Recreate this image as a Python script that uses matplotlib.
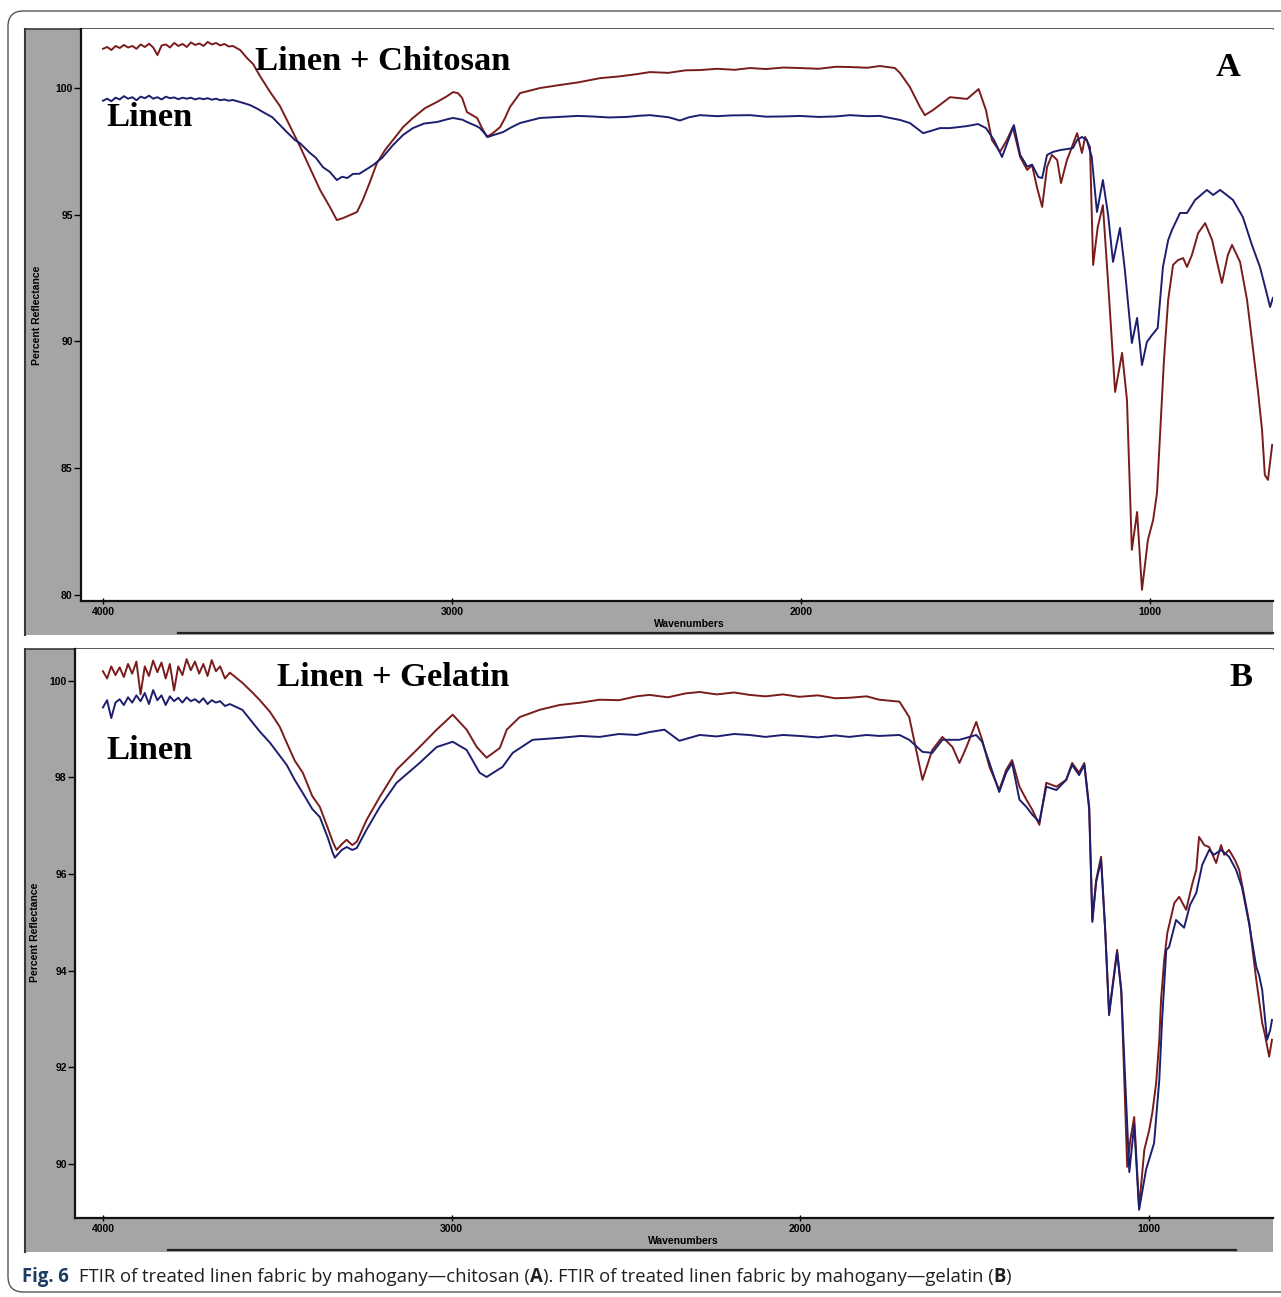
import numpy as np
import matplotlib.pyplot as plt
from matplotlib.patches import Rectangle, FancyBboxPatch
from matplotlib.lines import Line2D

# ---- data (wavenumber, percent reflectance) ----
# panel A, Linen + Chitosan
wn_chit = [4000, 3988, 3976, 3964, 3952, 3940, 3928, 3916, 3904, 3892, 3880, 3868, 3856, 3844,
           3832, 3820, 3808, 3796, 3784, 3772, 3760, 3748, 3736, 3724, 3712, 3700, 3688, 3676,
           3664, 3652, 3640, 3628, 3607, 3587, 3570, 3550, 3521, 3493, 3473, 3436, 3407, 3378,
           3350, 3330, 3312, 3292, 3272, 3255, 3235, 3215, 3192, 3169, 3140, 3112, 3077, 3043,
           3014, 2997, 2983, 2971, 2957, 2928, 2914, 2900, 2883, 2862, 2848, 2834, 2805, 2748,
           2691, 2640, 2576, 2520, 2470, 2433, 2380, 2330, 2289, 2240, 2190, 2146, 2100, 2050,
           2003, 1950, 1900, 1860, 1810, 1774, 1731, 1716, 1688, 1659, 1645, 1622,
           1573, 1524, 1491, 1470, 1453, 1430, 1410, 1393, 1372, 1352, 1338, 1324, 1309, 1295,
           1281, 1266, 1255, 1238, 1229, 1209, 1195, 1186, 1172, 1163, 1150, 1135, 1120, 1100,
           1080, 1066, 1052, 1037, 1023, 1006, 991, 980, 971, 960, 948, 934, 920, 905, 894, 880,
           862, 842, 822, 808, 794, 777, 765, 742, 722, 708, 691, 679, 671, 662, 650]
r_chit = [101.55, 101.62, 101.50, 101.66, 101.58, 101.70, 101.60, 101.66, 101.55, 101.72, 101.62,
          101.75, 101.60, 101.30, 101.68, 101.72, 101.60, 101.78, 101.66, 101.74, 101.62, 101.80,
          101.70, 101.76, 101.66, 101.82, 101.72, 101.78, 101.68, 101.74, 101.64, 101.66, 101.50,
          101.18, 100.95, 100.47, 99.84, 99.29, 98.74, 97.71, 96.84, 95.98, 95.31, 94.79, 94.87,
          94.99, 95.11, 95.60, 96.30, 97.04, 97.55, 97.95, 98.46, 98.82, 99.21, 99.45, 99.68,
          99.84, 99.80, 99.61, 99.05, 98.82, 98.42, 98.07, 98.22, 98.46, 98.82, 99.25, 99.80,
          100.00, 100.12, 100.22, 100.39, 100.46, 100.55, 100.63, 100.60, 100.70, 100.71, 100.76,
          100.72, 100.79, 100.75, 100.81, 100.79, 100.76, 100.84, 100.83, 100.80, 100.87,
          100.79, 100.59, 100.04, 99.25, 98.93, 99.13, 99.64, 99.57, 99.96, 99.13, 97.95, 97.48,
          97.95, 98.46, 97.28, 96.77, 96.96, 96.09, 95.31, 96.88, 97.36, 97.16, 96.25, 97.16,
          97.48, 98.22, 97.44, 98.07, 97.67, 93.02, 94.50, 95.38, 92.31, 88.01, 89.55, 87.69,
          81.78, 83.27, 80.20, 82.17, 82.96, 84.02, 86.39, 89.27, 91.64, 93.02, 93.21, 93.29,
          92.94, 93.41, 94.28, 94.67, 94.00, 93.14, 92.31, 93.41, 93.81, 93.14, 91.64, 90.06,
          88.09, 86.51, 84.73, 84.54, 85.92]

# panel A, Linen
wn_linA = [4000, 3988, 3976, 3964, 3952, 3940, 3928, 3916, 3904, 3892, 3880, 3868, 3856, 3844,
           3832, 3820, 3808, 3796, 3784, 3772, 3760, 3748, 3736, 3724, 3712, 3700, 3688, 3676,
           3664, 3652, 3640, 3628, 3600, 3579, 3560, 3536, 3515, 3493, 3473, 3450, 3436, 3407,
           3390, 3370, 3350, 3330, 3315, 3300, 3284, 3265, 3250, 3226, 3200, 3169, 3140, 3112,
           3080, 3043, 3010, 2997, 2970, 2957, 2930, 2920, 2897, 2880, 2854, 2830, 2805, 2748,
           2691, 2640, 2600, 2550, 2500, 2460, 2433, 2380, 2347, 2320, 2289, 2240, 2200, 2146,
           2100, 2050, 2003, 1950, 1900, 1860, 1810, 1774,
           1716, 1688, 1650, 1630, 1602, 1573, 1524, 1493, 1470, 1447, 1424, 1410, 1390,
           1372, 1352, 1338, 1320, 1309, 1295, 1278, 1258, 1221, 1209, 1195, 1181, 1167, 1152,
           1135, 1120, 1106, 1086, 1072, 1052, 1037, 1023, 1009, 994, 978, 963, 948, 937, 914,
           894, 871, 837, 819, 799, 762, 734, 708, 685, 668, 656, 648]
r_linA = [99.50, 99.58, 99.48, 99.62, 99.55, 99.68, 99.58, 99.64, 99.52, 99.66, 99.60, 99.70,
          99.58, 99.64, 99.55, 99.66, 99.60, 99.63, 99.56, 99.62, 99.58, 99.62, 99.55, 99.60,
          99.56, 99.60, 99.54, 99.58, 99.52, 99.55, 99.50, 99.53, 99.42, 99.33, 99.20, 99.01,
          98.85, 98.54, 98.26, 97.95, 97.83, 97.44, 97.25, 96.88, 96.69, 96.37, 96.50, 96.45,
          96.61, 96.62, 96.75, 96.96, 97.25, 97.75, 98.15, 98.42, 98.60, 98.66, 98.78, 98.82,
          98.75, 98.66, 98.50, 98.42, 98.07, 98.15, 98.26, 98.45, 98.62, 98.82,
          98.86, 98.90, 98.88, 98.84, 98.86, 98.91, 98.93, 98.85, 98.72, 98.85, 98.93, 98.89,
          98.92, 98.93, 98.87, 98.88, 98.90, 98.86, 98.88, 98.93, 98.89, 98.90,
          98.74, 98.62, 98.22, 98.30, 98.42, 98.42, 98.50, 98.58, 98.42, 97.95, 97.28,
          97.80, 98.54, 97.36, 96.90, 96.98, 96.49, 96.45, 97.36, 97.48, 97.55, 97.63, 97.95,
          98.07, 97.95, 97.28, 95.11, 96.37, 94.99, 93.14, 94.48, 92.82, 89.94, 90.93, 89.07,
          89.98, 90.26, 90.53, 92.94, 94.00, 94.40, 95.07, 95.07, 95.58, 95.98, 95.78, 95.98,
          95.58, 94.91, 93.81, 92.94, 92.03, 91.36, 91.72]

# panel B, Linen + Gelatin
wn_gel = [4000, 3988, 3976, 3964, 3952, 3940, 3928, 3916, 3904, 3892, 3880, 3868, 3856, 3844,
          3832, 3820, 3808, 3796, 3784, 3772, 3760, 3748, 3736, 3724, 3712, 3700, 3688, 3676,
          3664, 3650, 3636, 3600, 3570, 3550, 3521, 3493, 3473, 3450, 3427, 3400, 3378, 3355,
          3341, 3330, 3315, 3301, 3285, 3272, 3244, 3206, 3158, 3092, 3043, 2997, 2957, 2928,
          2900, 2862, 2842, 2805, 2748,
          2691, 2630, 2576, 2520, 2470, 2433, 2380, 2330, 2289, 2240, 2190, 2146, 2100, 2050,
          2003, 1950, 1900, 1860, 1810, 1774, 1716,
          1688, 1668, 1650, 1622, 1593, 1564, 1544, 1524, 1496, 1479, 1458, 1430, 1410, 1393,
          1372, 1352, 1335, 1315, 1295, 1266, 1238, 1221, 1201, 1186, 1172, 1163, 1152, 1138,
          1126, 1115, 1092, 1080, 1063, 1054, 1043, 1029, 1014, 1000, 991, 980, 971, 966, 957,
          948, 928, 914, 894, 877, 865, 857, 842, 828, 808, 794, 785, 771, 754, 742, 728, 713,
          693, 685, 676, 668, 656, 648]
r_gel = [100.20, 100.05, 100.30, 100.12, 100.28, 100.08, 100.35, 100.15, 100.40, 99.72, 100.30,
         100.10, 100.42, 100.18, 100.38, 100.05, 100.35, 99.80, 100.30, 100.12, 100.45, 100.22,
         100.40, 100.15, 100.35, 100.10, 100.43, 100.20, 100.30, 100.05, 100.17, 99.96, 99.75,
         99.60, 99.36, 99.05, 98.72, 98.35, 98.10, 97.62, 97.39, 96.95, 96.67, 96.50, 96.62,
         96.71, 96.60, 96.67, 97.12, 97.60, 98.16, 98.63, 98.99, 99.30, 98.99, 98.63, 98.41,
         98.61, 98.99, 99.25, 99.40,
         99.50, 99.55, 99.61, 99.60, 99.68, 99.71, 99.66, 99.74, 99.77, 99.72, 99.76, 99.71,
         99.68, 99.72, 99.67, 99.70, 99.64, 99.65, 99.68, 99.61, 99.57,
         99.25, 98.57, 97.95, 98.57, 98.84, 98.63, 98.30, 98.63, 99.15, 98.78, 98.22,
         97.74, 98.16, 98.36, 97.81, 97.54, 97.33, 97.02, 97.89, 97.81, 97.95, 98.30, 98.10,
         98.30, 97.39, 95.05, 95.88, 96.36, 94.84, 93.13, 94.43, 93.60, 89.94, 90.50, 90.97,
         89.09, 90.29, 90.70, 91.06, 91.68, 92.57, 93.40, 94.22, 94.78, 95.40, 95.53, 95.26,
         95.78, 96.09, 96.77, 96.60, 96.56, 96.23, 96.60, 96.40, 96.50, 96.29, 96.09, 95.57,
         94.99, 93.81, 93.40, 92.92, 92.67, 92.22, 92.57]

# panel B, Linen
wn_linB = [4000, 3988, 3976, 3964, 3952, 3940, 3928, 3916, 3904, 3892, 3880, 3868, 3856, 3844,
           3832, 3820, 3808, 3796, 3784, 3772, 3760, 3748, 3736, 3724, 3712, 3700, 3688, 3676,
           3664, 3650, 3636, 3600, 3570, 3550, 3521, 3493, 3473, 3450, 3427, 3400, 3378, 3355,
           3341, 3335, 3315, 3301, 3285, 3272, 3244, 3206, 3158, 3092, 3043, 2997, 2957, 2920,
           2900, 2854, 2825, 2768,
           2691, 2630, 2576, 2520, 2470, 2433, 2390, 2347, 2289, 2240, 2190, 2146, 2100, 2050,
           2003, 1950, 1900, 1860, 1810, 1774,
           1716, 1688, 1650, 1622, 1593, 1544, 1496, 1479, 1458, 1430, 1410, 1393, 1372, 1352,
           1335, 1315, 1295, 1266, 1238, 1221, 1201, 1186, 1172, 1163, 1152, 1138, 1126, 1115,
           1092, 1080, 1057, 1043, 1029, 1009, 986, 971, 963, 951, 943, 923, 900, 883, 865, 848,
           828, 814, 794, 771, 751, 734, 713, 693, 685, 676, 662, 653, 648]
r_linB = [99.45, 99.60, 99.23, 99.55, 99.62, 99.50, 99.66, 99.55, 99.70, 99.58, 99.75, 99.52,
          99.81, 99.60, 99.70, 99.50, 99.68, 99.58, 99.65, 99.55, 99.66, 99.58, 99.62, 99.55,
          99.64, 99.52, 99.60, 99.55, 99.58, 99.48, 99.52, 99.40, 99.13, 98.95, 98.72, 98.45,
          98.26, 97.95, 97.68, 97.35, 97.18, 96.75, 96.44, 96.34, 96.50, 96.56, 96.50, 96.54,
          96.92, 97.39, 97.89, 98.30, 98.63, 98.74, 98.57, 98.10, 98.01, 98.22, 98.51, 98.78,
          98.82, 98.86, 98.84, 98.90, 98.88, 98.94, 98.99, 98.76, 98.88, 98.85, 98.90, 98.88,
          98.84, 98.88, 98.86, 98.83, 98.87, 98.84, 98.88, 98.86,
          98.88, 98.78, 98.53, 98.51, 98.78, 98.78, 98.88, 98.74, 98.30, 97.70, 98.10, 98.30,
          97.54, 97.39, 97.23, 97.08, 97.81, 97.74, 97.95, 98.26, 98.05, 98.26, 97.33, 95.01,
          95.84, 96.29, 94.80, 93.08, 94.39, 93.56, 89.83, 90.81, 89.05, 89.88, 90.43, 91.74,
          92.98, 94.43, 94.49, 95.05, 94.89, 95.36, 95.61, 96.19, 96.50, 96.40, 96.50, 96.36,
          96.09, 95.73, 94.95, 94.08, 93.91, 93.60, 92.57, 92.77, 92.98]

yticks_A = [80, 85, 90, 95, 100]
yticks_B = [90, 92, 94, 96, 98, 100]
xticks = [4000, 3000, 2000, 1000]

caption = [("Fig. 6", True), ("FTIR of treated linen fabric by mahogany\u2014chitosan (", False),
           ("A", True), ("). FTIR of treated linen fabric by mahogany\u2014gelatin (", False),
           ("B", True), (")", False)]

# ---- layout in image pixels ----
W, H = 1281, 1297
RED = '#7a1c1c'
BLUE = '#1d1f6e'
GREY = '#a5a5a5'
NARROW = ['Liberation Sans Narrow', 'Liberation Sans', 'DejaVu Sans']
SERIF = ['Liberation Serif', 'DejaVu Serif']


def fx(x):
    return x / W


def fy(y):
    return 1 - y / H


fig = plt.figure(figsize=(W / 100, H / 100), dpi=100)
fig.patch.set_facecolor('white')

# outer rounded frame
frame = FancyBboxPatch((fx(8), fy(1292)), (1320 - 8) / W, (1292 - 11) / H,
                       boxstyle="round,pad=0,rounding_size=0.012",
                       transform=fig.transFigure, fill=False, edgecolor='#555555',
                       linewidth=1.0, zorder=-10)
fig.add_artist(frame)


def panel(left, top, bottom, grey_bottom, scroll_x0, scroll_x1, xlim, ylim, yticks):
    # grey instrument-software background
    fig.add_artist(Rectangle((fx(25), fy(grey_bottom)), (1273 - 25) / W, (grey_bottom - top) / H,
                             transform=fig.transFigure, facecolor=GREY, edgecolor='none',
                             zorder=-5))
    fig.add_artist(Line2D([fx(25), fx(1273)], [fy(top), fy(top)], transform=fig.transFigure,
                          color='#3a3a3a', lw=1.2, zorder=-4))
    fig.add_artist(Line2D([fx(25), fx(25)], [fy(top), fy(grey_bottom)], transform=fig.transFigure,
                          color='#3a3a3a', lw=1.5, zorder=-4))
    fig.add_artist(Line2D([fx(scroll_x0), fx(scroll_x1)], [fy(grey_bottom - 2), fy(grey_bottom - 2)],
                          transform=fig.transFigure, color='#222222', lw=1.6, zorder=-4))
    ax = fig.add_axes([fx(left), fy(bottom), (1273 - left) / W, (bottom - top) / H])
    ax.set_facecolor('white')
    ax.set_xlim(*xlim)
    ax.set_ylim(*ylim)
    for s in ['top', 'right']:
        ax.spines[s].set_visible(False)
    for s in ['left', 'bottom']:
        ax.spines[s].set_linewidth(1.6)
        ax.spines[s].set_color('#111111')
    ax.set_yticks(yticks)
    ax.set_yticklabels([str(t) for t in yticks])
    ax.set_xticks(xticks)
    ax.set_xticklabels([str(t) for t in xticks])
    ax.tick_params(axis='y', direction='out', length=5, width=1, pad=1)
    ax.tick_params(axis='x', direction='inout', length=5, width=1, pad=2)
    for lab in ax.get_xticklabels() + ax.get_yticklabels():
        lab.set_fontfamily(NARROW)
        lab.set_fontweight('bold')
        lab.set_fontsize(7.5)
    return ax


axA = panel(81, 29, 601, 635, 178, 1273, (4063, 647.6), (79.76, 102.33), yticks_A)
axA.plot(wn_chit, r_chit, color=RED, lw=1.4)
axA.plot(wn_linA, r_linA, color=BLUE, lw=1.4)

axB = panel(75, 649, 1218, 1252, 168, 1236, (4080, 645), (88.88, 100.66), yticks_B)
axB.plot(wn_gel, r_gel, color=RED, lw=1.4)
axB.plot(wn_linB, r_linB, color=BLUE, lw=1.4)

# axis titles
for (xl, yl), (xw, yw) in [((37, 315), (689, 624)), ((35, 932), (683, 1241))]:
    fig.text(fx(xl), fy(yl), 'Percent Reflectance', rotation=90, ha='center', va='center',
             fontsize=7.5, fontweight='bold', family=NARROW)
    fig.text(fx(xw), fy(yw), 'Wavenumbers', ha='center', va='center',
             fontsize=7.5, fontweight='bold', family=NARROW)

# curve labels
big = dict(fontsize=24.8, fontweight='bold', family=SERIF, va='center', ha='left', color='black')
fig.text(fx(255), fy(62), 'Linen + Chitosan', **big)
fig.text(fx(106), fy(117), 'Linen', **big)
fig.text(fx(1216), fy(67), 'A', **big)
fig.text(fx(277), fy(678), 'Linen + Gelatin', **big)
fig.text(fx(106), fy(750), 'Linen', **big)
fig.text(fx(1229), fy(678), 'B', **big)

# caption, sized so it spans the same width as the original
renderer = fig.canvas.get_renderer()
CAP_FONT = ['Open Sans', 'DejaVu Sans']
GAP = 0.75


def caption_width(size):
    total = 0
    for s, b in caption:
        t = fig.text(0, 0, s, fontsize=size, family=CAP_FONT, fontweight='bold' if b else 'normal')
        total += t.get_window_extent(renderer=renderer).width
        t.remove()
    return total + size * GAP


cap_size = 10 * (1012 - 22) / caption_width(10)
x = 22
for i, (s, b) in enumerate(caption):
    t = fig.text(fx(x), fy(1277), s, fontsize=cap_size, family=CAP_FONT, va='center', ha='left',
                 fontweight='bold' if b else 'normal',
                 color='#1d3b63' if i == 0 else '#231f20')
    x += t.get_window_extent(renderer=renderer).width
    if i == 0:
        x += cap_size * GAP

fig.savefig('out.png', dpi=100)
